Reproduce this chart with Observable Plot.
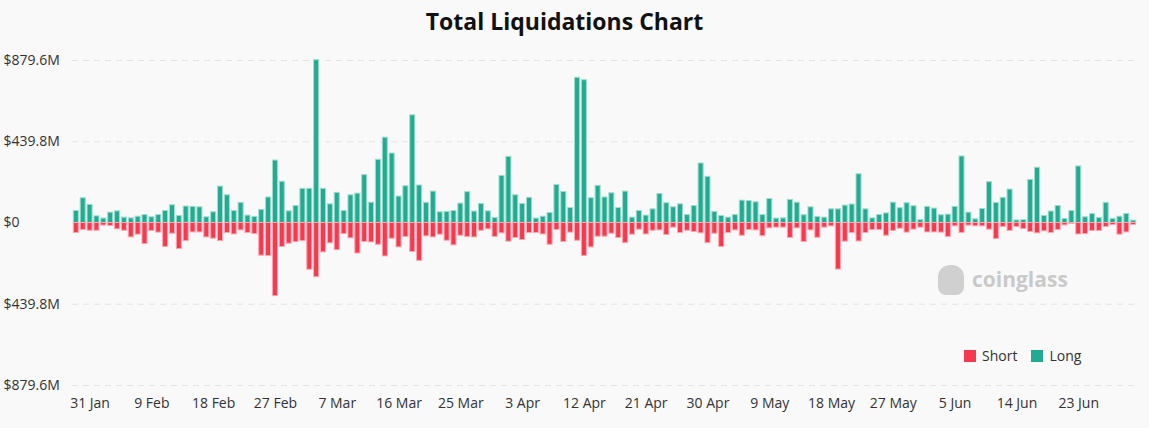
<!DOCTYPE html>
<html><head><meta charset="utf-8">
<script src="https://cdn.jsdelivr.net/npm/d3@7"></script>
<script src="https://cdn.jsdelivr.net/npm/@observablehq/plot@0.6"></script>
<style>
body{margin:0;background:#f9f9f9;font-family:"Open Sans",sans-serif;}
#wrap{position:relative;width:1149px;height:428px;}
#title{position:absolute;top:5px;left:0;width:1129px;text-align:center;font-size:23px;font-weight:700;color:#111;}
#chart{position:absolute;top:45px;left:0;}
#legend{position:absolute;left:964px;top:346px;font-size:14px;color:#333;display:flex;gap:14px;}
#legend span i{display:inline-block;width:12px;height:12px;margin-right:6px;vertical-align:-1px;}
#wm{position:absolute;left:938px;top:265px;font-size:21px;font-weight:700;color:#c9c9c9;}
#wm b{display:inline-block;width:26px;height:30px;background:#d0d0d0;border-radius:12px 12px 8px 8px;vertical-align:-8px;margin-right:8px;}
</style></head>
<body><div id="wrap"><div id="title">Total Liquidations Chart</div><div id="chart"></div>
<div id="wm"><b></b>coinglass</div>
<div id="legend"><span><i style="background:#f6394f"></i>Short</span><span><i style="background:#23ab92"></i>Long</span></div></div>
<script>
const startDate = "2024-01-29";
const longVals = [65,134,98,36,24,56,63,29,25,34,43,31,43,65,96,38,89,87,85,31,58,197,150,65,109,40,33,71,138,338,223,63,92,185,185,881,185,101,163,65,150,159,259,110,342,462,376,143,199,583,203,109,170,58,60,65,105,167,62,103,63,27,255,358,150,103,136,24,34,54,206,168,81,786,773,134,201,138,161,81,170,29,65,40,74,157,107,85,101,43,92,322,250,60,38,29,43,121,119,112,43,130,24,25,125,110,42,85,33,29,74,74,94,100,264,74,25,43,52,110,80,107,91,16,87,78,42,45,87,360,56,20,76,221,109,136,181,14,16,233,299,38,62,92,22,65,306,31,49,27,109,22,34,49,13];
const shortVals = [54,38,42,42,14,16,34,42,78,63,114,43,52,130,58,141,98,51,51,78,85,98,54,62,40,54,60,177,179,396,130,112,103,98,253,293,159,110,147,60,83,165,103,105,118,181,85,132,76,157,205,72,78,63,96,121,69,76,78,42,34,76,56,101,81,92,54,54,62,118,38,103,52,96,179,132,74,74,58,81,109,63,36,62,42,40,65,25,54,42,49,56,109,58,130,54,40,69,38,40,71,29,25,25,81,29,103,40,80,25,18,252,101,54,100,54,38,38,69,43,31,52,36,25,51,51,52,76,18,54,14,18,18,36,87,22,43,22,33,49,56,45,54,38,13,5,62,60,43,43,22,11,63,51,11];
const yTicks = [-879.6,-439.8,0,439.8,879.6];

const t0 = new Date(startDate+"T00:00:00Z");
const fmt = d3.utcFormat("%Y-%m-%d");
const dates = longVals.map((_,i)=>fmt(d3.utcDay.offset(t0,i)));
const data = [];
dates.forEach((d,i)=>{
  data.push({date:d,type:"Long",y1:0,y2:longVals[i]});
  data.push({date:d,type:"Short",y1:0,y2:-shortVals[i]});
});
const tickDates = dates.filter((d,i)=>i>=2 && (i-2)%9===0);
const lbl = d => { const t=new Date(d+"T00:00:00Z"); return d3.utcFormat("%-d %b")(t); };

const chart = Plot.plot({
  width:1149, height:383,
  marginLeft:72, marginRight:12, marginTop:15, marginBottom:43,
  style:{background:"transparent",fontFamily:"Open Sans, sans-serif",fontSize:"14px",color:"#333"},
  x:{type:"band",domain:dates,padding:0.12,label:null},
  y:{domain:[-879.6,879.6],label:null},
  color:{domain:["Long","Short"],range:["#23ab92","#f6394f"]},
  marks:[
    Plot.gridY(yTicks,{stroke:"#e3e3e3",strokeOpacity:1,strokeDasharray:"6,5"}),
    Plot.rectY(data,{x:"date",y1:"y1",y2:"y2",fill:"type",
      stroke:d=>d.type==="Long"?"#9fdccf":"#f9a9b3",strokeWidth:1,insetLeft:0.5,insetRight:0.5}),
    Plot.axisY(yTicks,{tickSize:0,textAnchor:"start",dx:-60,
      tickFormat:v=>"$"+(v===0?"0":Math.abs(v).toFixed(1)+"M"),fill:"#333",fontSize:14}),
    Plot.axisX(tickDates,{tickSize:0,tickPadding:13,tickFormat:lbl,fill:"#333",fontSize:14})
  ]
});
document.getElementById("chart").appendChild(chart);
</script></body></html>
